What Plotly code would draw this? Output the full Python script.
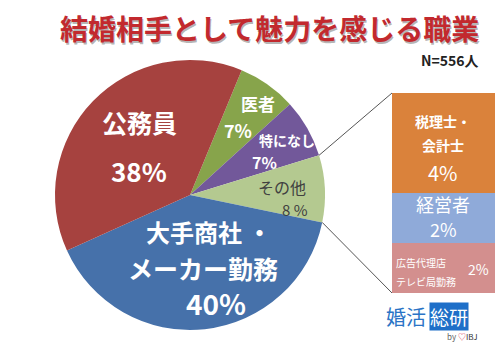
import math
import plotly.graph_objects as go

# ---- data ----
labels = ["医者", "特になし", "その他", "大手商社・メーカー勤務", "公務員"]
values = [7, 7, 8, 40, 38]
pie_colors = ["#87A44B", "#72589A", "#B4C990", "#4671AA", "#A6423F"]

breakdown_labels = ["広告代理店・テレビ局勤務", "経営者", "税理士・会計士"]
breakdown_values = [2, 2, 4]
breakdown_colors = ["#D38F8E", "#8FAAD9", "#DA823B"]

title_text = "結婚相手として魅力を感じる職業"
n_text = "N=556人"

W, H = 500, 354
FONT = "Noto Sans CJK JP"

# pie geometry (pixels)
cx, cy, r = 190, 195, 135
pie_dom_x = [(cx - r) / W, (cx + r) / W]
pie_dom_y = [1 - (cy + r) / H, 1 - (cy - r) / H]
rotation = 22.5

# breakdown bar geometry (pixels)
bx0, bx1, by_top, by_bot = 392, 495, 93, 293
bar_dom_x = [bx0 / W, bx1 / W]
bar_dom_y = [1 - by_bot / H, 1 - by_top / H]

fig = go.Figure()
fig.add_trace(go.Pie(
    labels=labels, values=values, sort=False, direction="clockwise",
    rotation=rotation, marker=dict(colors=pie_colors, line=dict(width=0)),
    textinfo="none", hoverinfo="label+percent", showlegend=False,
    domain=dict(x=pie_dom_x, y=pie_dom_y),
))

for lab, val, col in zip(breakdown_labels, breakdown_values, breakdown_colors):
    fig.add_trace(go.Bar(
        x=[0], y=[val], name=lab, marker=dict(color=col, line=dict(width=0)),
        width=1, xaxis="x", yaxis="y", showlegend=False, hoverinfo="name+y",
    ))

fig.update_layout(
    width=W, height=H, margin=dict(l=0, r=0, t=0, b=0),
    paper_bgcolor="white", plot_bgcolor="rgba(0,0,0,0)",
    barmode="stack", bargap=0,
    xaxis=dict(domain=bar_dom_x, range=[-0.5, 0.5], visible=False, fixedrange=True),
    yaxis=dict(domain=bar_dom_y, range=[0, sum(breakdown_values)], visible=False, fixedrange=True),
    font=dict(family=FONT),
)

# connector lines from the "その他" slice edges to the breakdown bar
total = sum(values)
idx = labels.index("その他")
start_frac = sum(values[:idx]) / total
end_frac = sum(values[:idx + 1]) / total

def edge(frac):
    th = math.radians(rotation + 360 * frac)
    return cx + r * math.sin(th), cy - r * math.cos(th)

for frac, by in [(start_frac, by_top), (end_frac, by_bot)]:
    px, py = edge(frac)
    fig.add_shape(type="line", xref="paper", yref="paper",
                  x0=px / W, y0=1 - py / H, x1=bx0 / W, y1=1 - by / H,
                  line=dict(color="#555555", width=1))

anns = []

def ann(x, y, text, size, color="white", bold=True, xanchor="center", **kw):
    d = dict(x=x / W, y=1 - y / H, xref="paper", yref="paper", text=text,
             showarrow=False, xanchor=xanchor, yanchor="middle",
             font=dict(family=FONT, size=size, color=color,
                       weight="bold" if bold else "normal"))
    d.update(kw)
    anns.append(d)

# title with shadow
ann(269, 28, title_text, 28, color="rgba(90,90,90,0.45)", xshift=1.5, yshift=-1.5)
ann(269, 28, title_text, 28, color="#C2292E")
ann(450, 60, n_text, 14, color="#222222")

# pie labels
ann(139, 122, "公務員", 25)
ann(139, 170, "38%", 26)
ann(208, 232, "大手商社 ・", 24)
ann(203, 268, "メーカー勤務", 25)
ann(216, 303, "40%", 28)
ann(258, 103, "医者", 17)
ann(238, 130, "7%", 18)
ann(287, 140, "特になし", 14)
ann(264, 162, "7%", 16)
ann(282, 187, "その他", 16, color="#404040", bold=False)
ann(295, 209, "8 %", 15, color="#404040", bold=False)

# breakdown labels
ann(443, 121, "税理士・", 14)
ann(443, 145, "会計士", 14)
ann(443, 172, "4%", 20, bold=False)
ann(443, 204, "経営者", 18, bold=False)
ann(443, 229, "2%", 18, bold=False)
ann(394, 262, "広告代理店", 10, bold=False, xanchor="left")
ann(394, 281, "テレビ局勤務", 10, bold=False, xanchor="left")
ann(478, 269, "2%", 14, bold=False)

# logo
ann(406, 316, "婚活", 20, color="#2A74C6", bold=False)
ann(449, 316, "総研", 19, color="white", bold=False, bgcolor="#1E6FC8", borderpad=0)
ann(462, 336, "<span style='color:#666'>by </span><span style='color:#D9405A'>♡</span><span style='color:#333'>IBJ</span>", 8, bold=False)

fig.update_layout(annotations=anns)
fig.write_html("out.html")
